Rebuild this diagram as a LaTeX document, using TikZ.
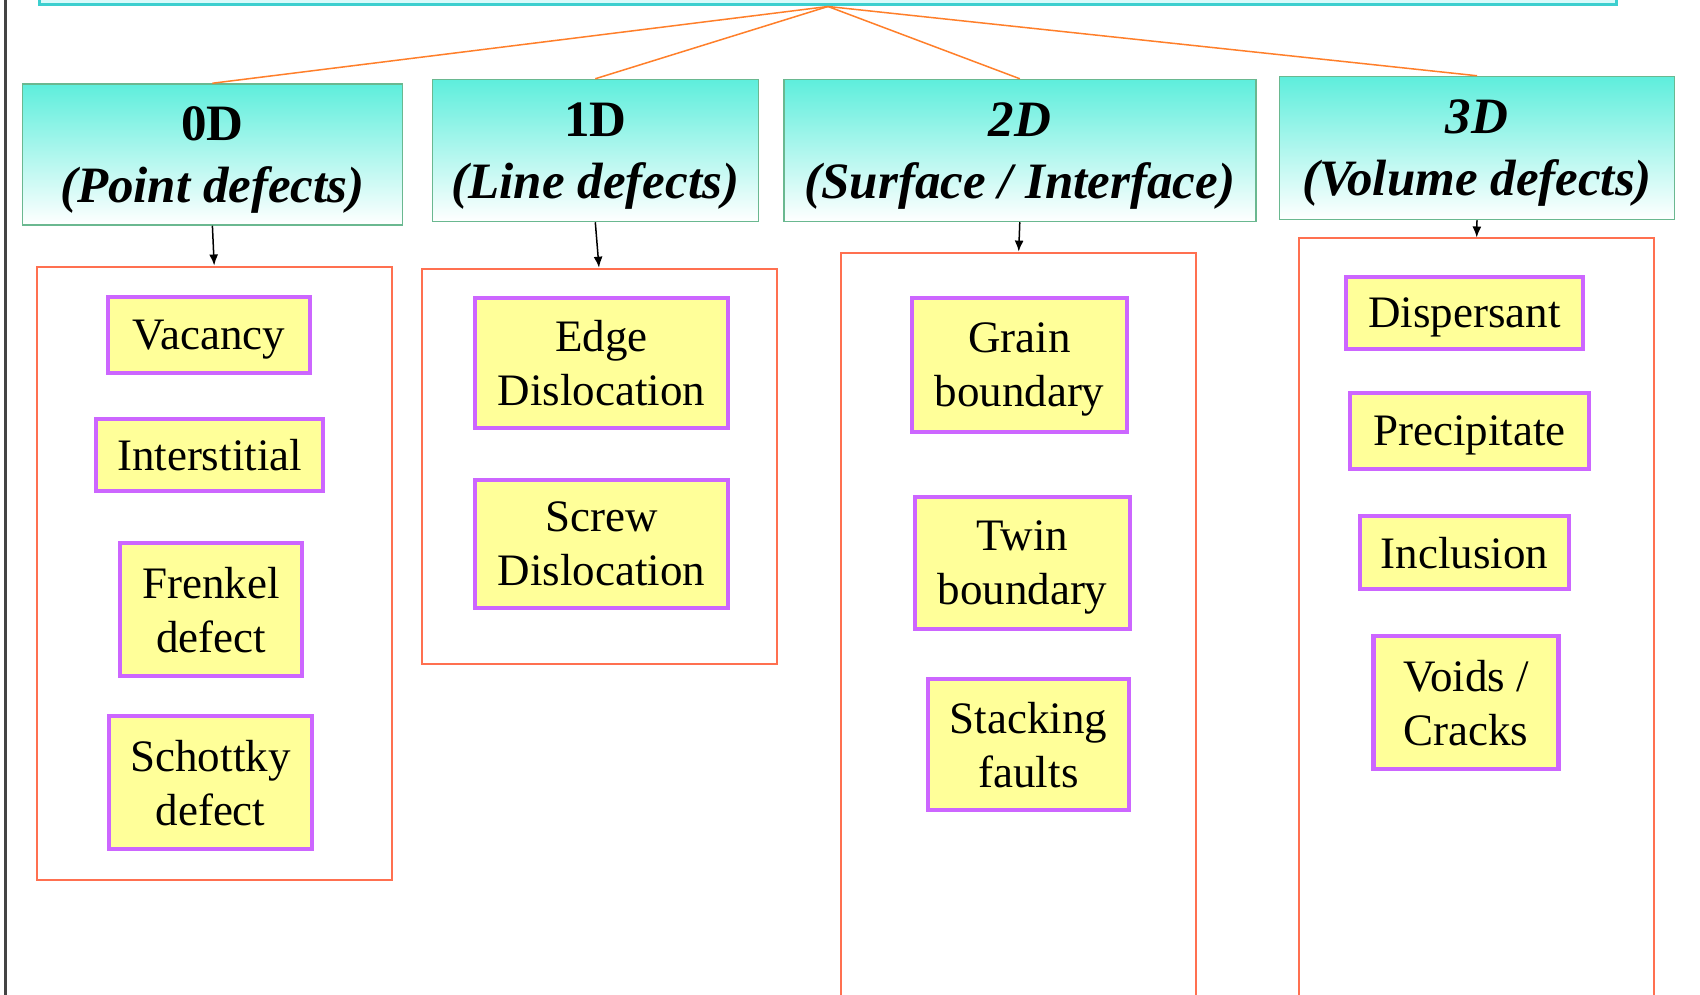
\documentclass[tikz,border=0pt]{standalone}
\usepackage{fontspec}
\setmainfont{Liberation Serif}
\usetikzlibrary{arrows.meta}
\definecolor{hdcyan}{RGB}{94,238,220}
\definecolor{hdline}{RGB}{106,184,144}
\definecolor{topline}{RGB}{60,207,207}
\definecolor{topfill}{RGB}{216,250,250}
\definecolor{linkorange}{RGB}{255,127,42}
\definecolor{grpred}{RGB}{255,112,80}
\definecolor{itemfill}{RGB}{255,255,153}
\definecolor{itemline}{RGB}{204,102,255}
\definecolor{edgegray}{RGB}{68,68,68}

\begin{document}
\begin{tikzpicture}[x=1pt,y=-1pt,>={Latex[length=11pt,width=9pt]},
    hdr/.style={draw=hdline,line width=1.5pt,top color=hdcyan,bottom color=white,
        align=center,inner sep=0pt,text depth=0pt,font=\fontsize{51}{62}\selectfont\bfseries},
    grp/.style={draw=grpred,line width=2pt,inner sep=0pt,minimum width=355},
    item/.style={draw=itemline,fill=itemfill,line width=4.5pt,align=center,
        inner sep=0pt,text depth=0pt,font=\fontsize{45}{54}\selectfont},
    link/.style={draw=linkorange,line width=1.5pt}]
\useasboundingbox (0,0) rectangle (1700,995);
\clip (0,0) rectangle (1700,995);
\fill[white] (0,0) rectangle (1700,995);
\draw[edgegray,line width=3pt] (5,0) -- (5,995);

\node[draw=topline,fill=topfill,line width=3pt,minimum width=1577,minimum height=200] (top) at (828,-95) {};

% dimension headers
\node[hdr,minimum width=380,minimum height=141] (h0) at (212.4,154.5) {0D\\\textit{(Point defects)}};
\node[hdr,minimum width=326,minimum height=142] (h1) at (595.3,150.5) {1D\\\textit{(Line defects)}};
\node[hdr,minimum width=472,minimum height=142] (h2) at (1019.8,150.5) {\textit{2D}\\\textit{(Surface / Interface)}};
\node[hdr,minimum width=395,minimum height=143] (h3) at (1477,148) {\textit{3D}\\\textit{(Volume defects)}};
\foreach \n in {h0,h1,h2,h3}
    \draw[link] (top.south) -- (\n.north);

% groups
\node[grp,minimum height=613] (g0) at (214.2,573) {};
\node[grp,minimum height=395] (g1) at (599,466.2) {};
\node[grp,minimum height=900] (g2) at (1018.7,702.6) {};
\node[grp,minimum height=900] (g3) at (1476.7,688.5) {};
\foreach \n in {0,1,2,3}
    \draw[->,line width=1.5pt] (h\n.south) -- (g\n.north);

% 0D
\node[item,minimum width=202,minimum height=76] (vac) at (209,335) {Vacancy};
\node[item,minimum width=227,minimum height=72] (inter) at (209.5,455) {Interstitial};
\node[item,minimum width=182,minimum height=133] (frenkel) at (211,609.5) {Frenkel\\defect};
\node[item,minimum width=203,minimum height=133] (schottky) at (210.5,782.5) {Schottky\\defect};
% 1D
\node[item,minimum width=253,minimum height=130] (edge) at (601.5,363) {Edge\\Dislocation};
\node[item,minimum width=253,minimum height=128] (screw) at (601.5,544) {Screw\\Dislocation};
% 2D
\node[item,minimum width=215,minimum height=134] (grain) at (1019.5,365) {Grain\\boundary};
\node[item,minimum width=215,minimum height=132] (twin) at (1022.5,563) {Twin\\boundary};
\node[item,minimum width=201,minimum height=131] (stack) at (1028.5,744.5) {Stacking\\faults};
% 3D
\node[item,minimum width=237,minimum height=72] (disp) at (1464.5,313) {Dispersant};
\node[item,minimum width=239,minimum height=76] (prec) at (1469.5,431) {Precipitate};
\node[item,minimum width=209,minimum height=73] (incl) at (1464.5,552.5) {Inclusion};
\node[item,minimum width=185,minimum height=133] (voids) at (1466,702.5) {Voids /\\Cracks};
\end{tikzpicture}
\end{document}
